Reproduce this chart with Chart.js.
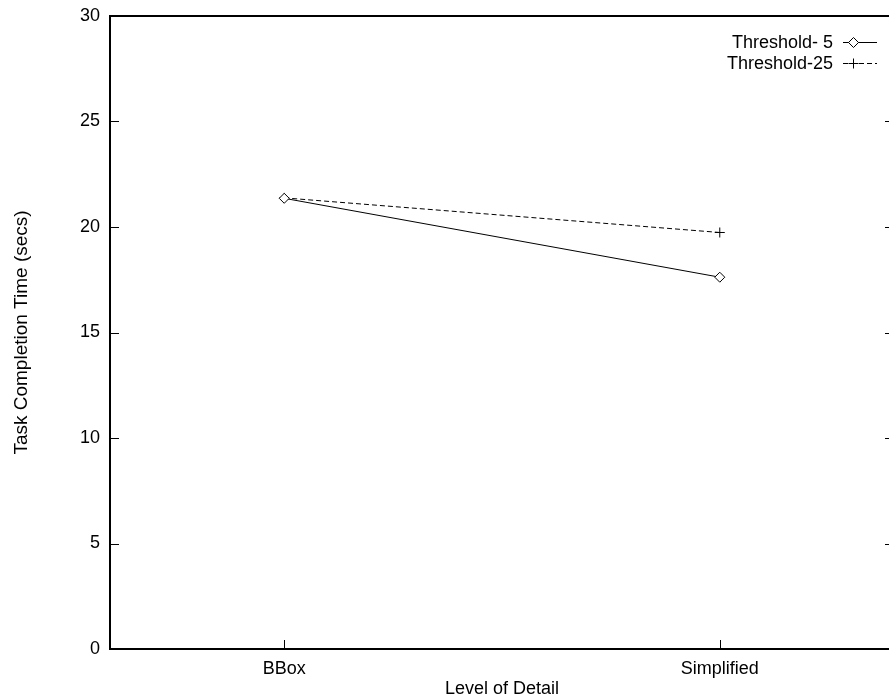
<!DOCTYPE html>
<html lang="en">
<head>
<meta charset="UTF-8">
<title>Task Completion Time</title>
<script src="https://cdn.jsdelivr.net/npm/chart.js"></script>
<style>
  html, body { margin: 0; padding: 0; overflow: hidden; background: #fff; }
  #wrap { width: 900px; height: 700px; }
</style>
</head>
<body>
<div id="wrap"><canvas id="chart" width="900" height="700"></canvas></div>
<script>
// level of detail categories, placed at x = 1, 2 on a 0.6..2.4 range
const categories = ['BBox', 'Simplified'];
const categoryPos = [1, 2];
const yTickValues = [0, 5, 10, 15, 20, 25, 30];
const seriesNames = ['Threshold- 5', 'Threshold-25'];
const threshold5 = [21.36, 17.62];
const threshold25 = [21.38, 19.74];

const FONT = "'Liberation Sans', Arial, sans-serif";
Chart.defaults.font.family = FONT;
Chart.defaults.font.size = 18;
Chart.defaults.color = '#000';

const TICK = 9;

// box around the plot with inward tick marks (y mirrored on the right)
const framePlugin = {
  id: 'frame',
  afterDraw(chart) {
    const { ctx, chartArea: a, scales } = chart;
    ctx.save();
    ctx.strokeStyle = '#000';
    ctx.lineWidth = 1;
    ctx.beginPath();
    yTickValues.forEach(v => {
      const y = Math.round(scales.y.getPixelForValue(v)) + 0.5;
      ctx.moveTo(a.left, y); ctx.lineTo(a.left + TICK, y);
      ctx.moveTo(a.right, y); ctx.lineTo(a.right - TICK, y);
    });
    categoryPos.forEach(v => {
      const x = Math.round(scales.x.getPixelForValue(v)) + 0.5;
      ctx.moveTo(x, a.bottom); ctx.lineTo(x, a.bottom - TICK);
    });
    ctx.stroke();
    ctx.lineWidth = 2;
    ctx.strokeRect(a.left, a.top, a.right - a.left, a.bottom - a.top);
    ctx.restore();
  }
};

function drawMarker(ctx, style, x, y) {
  ctx.beginPath();
  if (style === 'rectRot') {
    const r = 5;
    ctx.moveTo(x, y - r); ctx.lineTo(x + r, y); ctx.lineTo(x, y + r); ctx.lineTo(x - r, y);
    ctx.closePath();
    ctx.fillStyle = '#fff';
    ctx.fill();
  } else {
    const r = 5;
    ctx.moveTo(x - r, y); ctx.lineTo(x + r, y);
    ctx.moveTo(x, y - r); ctx.lineTo(x, y + r);
  }
  ctx.stroke();
}

// key in the top right: label, then line sample with its marker
const keyPlugin = {
  id: 'key',
  afterDraw(chart) {
    const { ctx } = chart;
    const textRight = 833, lineL = 843, lineR = 877, top = 42, rowH = 21;
    ctx.save();
    ctx.font = '18px ' + FONT;
    ctx.textAlign = 'right';
    ctx.textBaseline = 'middle';
    chart.data.datasets.forEach((ds, i) => {
      const y = top + i * rowH;
      ctx.fillStyle = '#000';
      ctx.fillText(ds.label, textRight, y + 1);
      ctx.strokeStyle = '#000';
      ctx.lineWidth = 1;
      ctx.setLineDash(ds.borderDash || []);
      ctx.beginPath();
      ctx.moveTo(lineL, y + 0.5); ctx.lineTo(lineR, y + 0.5);
      ctx.stroke();
      ctx.setLineDash([]);
      drawMarker(ctx, ds.pointStyle, 853.5, y + 0.5);
    });
    ctx.restore();
  }
};

const toPoints = vals => vals.map((v, i) => ({ x: categoryPos[i], y: v }));

new Chart(document.getElementById('chart'), {
  type: 'line',
  data: {
    datasets: [
      {
        label: seriesNames[0],
        data: toPoints(threshold5),
        borderColor: '#000',
        borderWidth: 1,
        pointStyle: 'rectRot',
        pointRadius: 5,
        pointBorderWidth: 1,
        pointBackgroundColor: '#fff',
        pointBorderColor: '#000',
        tension: 0
      },
      {
        label: seriesNames[1],
        data: toPoints(threshold25),
        borderColor: '#000',
        borderWidth: 1,
        borderDash: [5, 3],
        pointStyle: 'cross',
        pointRadius: 5,
        pointBorderWidth: 1,
        pointBorderColor: '#000',
        tension: 0
      }
    ]
  },
  options: {
    responsive: false,
    animation: false,
    layout: { padding: { top: 16, right: 6, left: 0, bottom: 0 } },
    scales: {
      x: {
        type: 'linear',
        min: 0.6,
        max: 2.4,
        afterBuildTicks: s => { s.ticks = categoryPos.map(v => ({ value: v })); },
        afterFit: s => { s.height = 51; s.paddingLeft = 0; s.paddingRight = 0; },
        grid: { display: false, drawTicks: false },
        border: { display: false },
        ticks: {
          padding: 9,
          maxRotation: 0,
          callback: v => categories[categoryPos.indexOf(v)]
        },
        title: { display: true, text: 'Level of Detail', padding: { top: 0, bottom: 0 } }
      },
      y: {
        min: 0,
        max: 30,
        afterBuildTicks: s => { s.ticks = yTickValues.map(v => ({ value: v })); },
        afterFit: s => { s.width = 110; s.paddingTop = 0; s.paddingBottom = 0; },
        grid: { display: false, drawTicks: false },
        border: { display: false },
        ticks: { padding: 10 },
        title: {
          display: true,
          text: 'Task Completion Time (secs)',
          font: { size: 19 },
          padding: { top: 10, bottom: 0 }
        }
      }
    },
    plugins: {
      legend: { display: false },
      tooltip: { enabled: false }
    }
  },
  plugins: [framePlugin, keyPlugin]
});
</script>
</body>
</html>
